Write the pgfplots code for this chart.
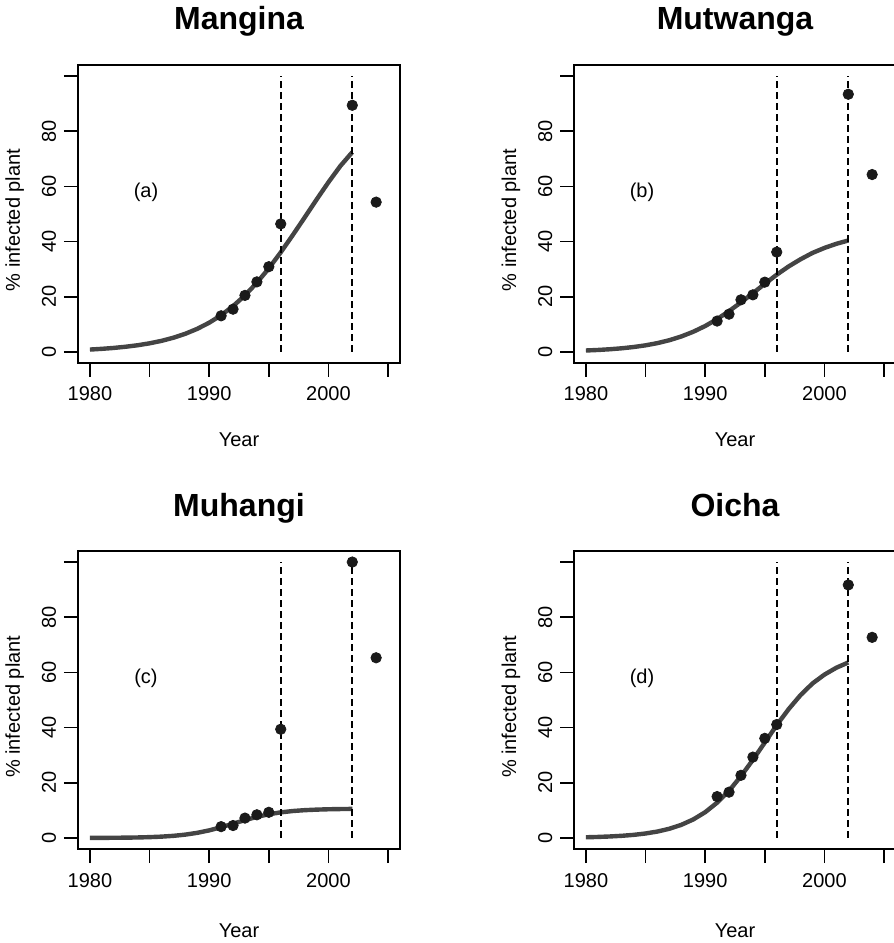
\documentclass[border=0pt]{standalone}
\usepackage{fontspec}
\setmainfont{Liberation Sans}
\usepackage{pgfplots}
\pgfplotsset{compat=1.18}
\definecolor{fitcol}{HTML}{444444}
\definecolor{ptcol}{HTML}{1A1A1A}

\pgfplotsset{
  rpanel/.style={
    scale only axis, width=161pt, height=149pt, anchor=south west,
    xmin=1979, xmax=2006, ymin=-4, ymax=104,
    axis line style={line width=0.9pt},
    tick align=outside, major tick length=7pt,
    every tick/.style={black, line width=0.9pt},
    xtick pos=left, ytick pos=left,
    xtick={1980,1985,...,2005}, xticklabels={1980,,1990,,2000,},
    ytick={0,20,...,100}, yticklabels={0,20,40,60,80,},
    tick label style={font=\fontsize{10}{12}\selectfont},
    /pgf/number format/assume math mode=true,
    xticklabel style={anchor=base}, xticklabel shift=12pt,
    yticklabel style={rotate=90, anchor=base}, yticklabel shift=4pt,
  },
  fit/.style={fitcol, line width=2.2pt, no markers, line join=round},
  obs/.style={only marks, mark=*, mark size=2.6pt, ptcol, mark options={draw=ptcol, fill=ptcol}},
  cut/.style={black, line width=0.8pt, dash pattern=on 3.5pt off 2pt, no markers},
}

\begin{document}
\begin{tikzpicture}
\useasboundingbox (0,0) rectangle (447pt,471.5pt);

% (a) Mangina
\begin{axis}[rpanel, at={(39pt,290pt)}]
\addplot[fit] coordinates {(1980,0.87) (1981,1.13) (1982,1.46) (1983,1.89) (1984,2.43) (1985,3.13)
  (1986,4.02) (1987,5.16) (1988,6.59) (1989,8.38) (1990,10.6) (1991,13.3) (1992,16.6) (1993,20.5)
  (1994,25.1) (1995,30.3) (1996,36.1) (1997,42.3) (1998,48.7) (1999,55.2) (2000,61.5) (2001,67.4) (2002,72.4)};
\addplot[cut] coordinates {(1996,0) (1996,100)};
\addplot[cut] coordinates {(2002,0) (2002,100)};
\addplot[obs] coordinates {(1991,13.1) (1992,15.5) (1993,20.5) (1994,25.4) (1995,30.9) (1996,46.4) (2002,89.4) (2004,54.3)};
\node[font=\fontsize{10}{12}\selectfont] at (axis cs:1984.7,58) {(a)};
\end{axis}

% (b) Mutwanga
\begin{axis}[rpanel, at={(287pt,290pt)}]
\addplot[fit] coordinates {(1980,0.53) (1981,0.72) (1982,0.98) (1983,1.33) (1984,1.79) (1985,2.40)
  (1986,3.21) (1987,4.26) (1988,5.62) (1989,7.32) (1990,9.40) (1991,11.9) (1992,14.8) (1993,17.95)
  (1994,21.3) (1995,24.7) (1996,28.0) (1997,31.0) (1998,33.6) (1999,35.9) (2000,37.7) (2001,39.2) (2002,40.4)};
\addplot[cut] coordinates {(1996,0) (1996,100)};
\addplot[cut] coordinates {(2002,0) (2002,100)};
\addplot[obs] coordinates {(1991,11.2) (1992,13.7) (1993,18.9) (1994,20.7) (1995,25.3) (1996,36.2) (2002,93.4) (2004,64.3)};
\node[font=\fontsize{10}{12}\selectfont] at (axis cs:1984.7,58) {(b)};
\end{axis}

% (c) Muhangi
\begin{axis}[rpanel, at={(39pt,47pt)}]
\addplot[fit] coordinates {(1980,0.03) (1981,0.04) (1982,0.07) (1983,0.11) (1984,0.18) (1985,0.30)
  (1986,0.48) (1987,0.77) (1988,1.21) (1989,1.86) (1990,2.75) (1991,3.88) (1992,5.17) (1993,6.47)
  (1994,7.64) (1995,8.59) (1996,9.28) (1997,9.76) (1998,10.07) (1999,10.27) (2000,10.40) (2001,10.48) (2002,10.53)};
\addplot[cut] coordinates {(1996,0) (1996,100)};
\addplot[cut] coordinates {(2002,0) (2002,100)};
\addplot[obs] coordinates {(1991,4.1) (1992,4.5) (1993,7.2) (1994,8.4) (1995,9.3) (1996,39.4) (2002,100) (2004,65.3)};
\node[font=\fontsize{10}{12}\selectfont] at (axis cs:1984.7,58) {(c)};
\end{axis}

% (d) Oicha
\begin{axis}[rpanel, at={(287pt,47pt)}]
\addplot[fit] coordinates {(1980,0.25) (1981,0.37) (1982,0.54) (1983,0.78) (1984,1.12) (1985,1.62)
  (1986,2.33) (1987,3.34) (1988,4.76) (1989,6.71) (1990,9.34) (1991,12.8) (1992,17.1) (1993,22.4)
  (1994,28.3) (1995,34.6) (1996,40.9) (1997,46.7) (1998,51.8) (1999,56.0) (2000,59.2) (2001,61.7) (2002,63.6)};
\addplot[cut] coordinates {(1996,0) (1996,100)};
\addplot[cut] coordinates {(2002,0) (2002,100)};
\addplot[obs] coordinates {(1991,15.0) (1992,16.6) (1993,22.7) (1994,29.3) (1995,36.1) (1996,41.1) (2002,91.7) (2004,72.7)};
\node[font=\fontsize{10}{12}\selectfont] at (axis cs:1984.7,58) {(d)};
\end{axis}

% titles and axis labels
\begin{scope}[every node/.style={anchor=base}]
\node[font=\fontsize{16}{19}\selectfont\bfseries] at (119.5pt,456.85pt) {Mangina};
\node[font=\fontsize{16}{19}\selectfont\bfseries] at (367.5pt,456.85pt) {Mutwanga};
\node[font=\fontsize{16}{19}\selectfont\bfseries] at (119.5pt,213.2pt) {Muhangi};
\node[font=\fontsize{16}{19}\selectfont\bfseries] at (367.5pt,213.2pt) {Oicha};
\node[font=\fontsize{10}{12}\selectfont] at (119.5pt,248.15pt) {Year};
\node[font=\fontsize{10}{12}\selectfont] at (367.5pt,248.15pt) {Year};
\node[font=\fontsize{10}{12}\selectfont] at (119.5pt,2.85pt) {Year};
\node[font=\fontsize{10}{12}\selectfont] at (367.5pt,2.85pt) {Year};
\node[font=\fontsize{10}{12}\selectfont, rotate=90] at (10pt,361.5pt) {\% infected plant};
\node[font=\fontsize{10}{12}\selectfont, rotate=90] at (258pt,361.5pt) {\% infected plant};
\node[font=\fontsize{10}{12}\selectfont, rotate=90] at (10pt,118.1pt) {\% infected plant};
\node[font=\fontsize{10}{12}\selectfont, rotate=90] at (258pt,118.1pt) {\% infected plant};
\end{scope}
\end{tikzpicture}
\end{document}
